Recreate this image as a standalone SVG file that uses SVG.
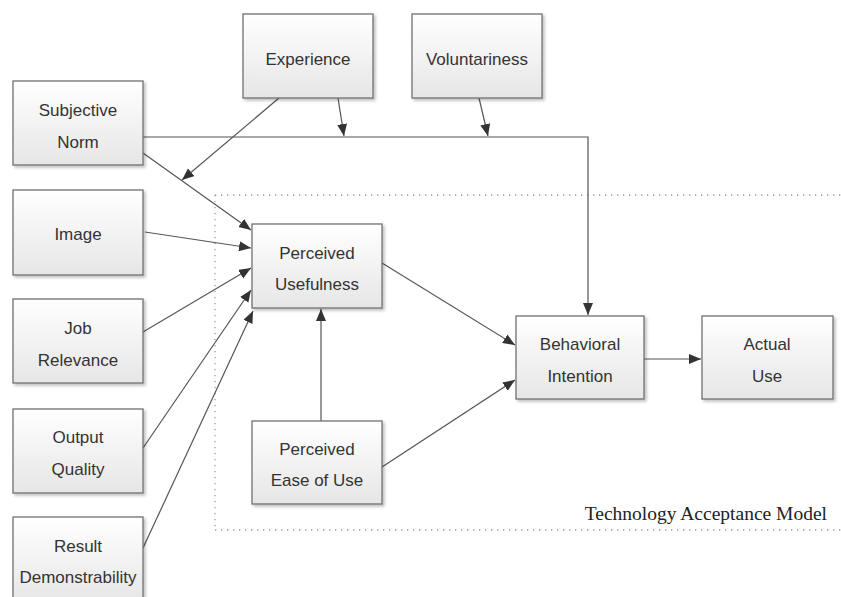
<svg xmlns="http://www.w3.org/2000/svg" width="841" height="597" viewBox="0 0 841 597">
<defs>
<linearGradient id="g" x1="0" y1="0" x2="0" y2="1">
<stop offset="0" stop-color="#ffffff"/>
<stop offset="1" stop-color="#e6e6e6"/>
</linearGradient>
<filter id="sh" x="-10%" y="-10%" width="130%" height="130%">
<feDropShadow dx="2" dy="2" stdDeviation="1.5" flood-color="#000" flood-opacity="0.25"/>
</filter>
<marker id="ah" markerUnits="userSpaceOnUse" markerWidth="14" markerHeight="12" refX="12" refY="5" orient="auto">
<path d="M0,0 L12,5 L0,10 Z" fill="#333"/>
</marker>
</defs>
<style>
.box{fill:url(#g);stroke:#707070;stroke-width:1.3;filter:url(#sh)}
.t{font-family:"Liberation Sans",Arial,sans-serif;font-size:17px;fill:#333;text-anchor:middle}
.c{fill:none;stroke:#555;stroke-width:1.2}
.a{marker-end:url(#ah)}
.dot{fill:none;stroke:#999;stroke-width:1.3;stroke-dasharray:1.3 4.7}
</style>
<rect width="841" height="597" fill="#fff"/>
<g id="tam-frame">
<line class="dot" x1="215" y1="195" x2="841" y2="195"/>
<line class="dot" x1="215" y1="195" x2="215" y2="530"/>
<line class="dot" x1="215" y1="530" x2="841" y2="530"/>
<text x="827" y="520" font-family="'Liberation Serif','Times New Roman',serif" font-size="19.5" fill="#222" text-anchor="end">Technology Acceptance Model</text>
</g>
<g id="connectors">
<polyline class="c a" points="143,137 588,137 588,315"/>
<line class="c a" x1="338" y1="98" x2="344" y2="136"/>
<line class="c a" x1="479" y1="98" x2="488" y2="136"/>
<line class="c a" x1="279" y1="98" x2="182" y2="180"/>
<line class="c a" x1="143" y1="153" x2="251" y2="230"/>
<line class="c a" x1="145" y1="232" x2="251" y2="248"/>
<line class="c a" x1="143" y1="332" x2="251" y2="268"/>
<line class="c a" x1="143" y1="448" x2="251" y2="290"/>
<line class="c a" x1="143" y1="548" x2="253" y2="311"/>
<line class="c a" x1="321" y1="421" x2="321" y2="309"/>
<line class="c a" x1="382" y1="263" x2="515" y2="345"/>
<line class="c a" x1="382" y1="467" x2="515" y2="380"/>
<line class="c a" x1="644" y1="359" x2="701" y2="359"/>
</g>
<g id="experience"><rect class="box" x="243" y="14" width="130" height="84"/><text class="t" x="308" y="65">Experience</text></g>
<g id="voluntariness"><rect class="box" x="412" y="14" width="130" height="84"/><text class="t" x="477" y="65">Voluntariness</text></g>
<g id="subjective-norm"><rect class="box" x="13" y="81" width="130" height="84"/><text class="t" x="78" y="116">Subjective</text><text class="t" x="78" y="148">Norm</text></g>
<g id="image"><rect class="box" x="13" y="190" width="130" height="85"/><text class="t" x="78" y="240">Image</text></g>
<g id="job-relevance"><rect class="box" x="13" y="299" width="130" height="84"/><text class="t" x="78" y="334">Job</text><text class="t" x="78" y="366">Relevance</text></g>
<g id="output-quality"><rect class="box" x="13" y="409" width="130" height="84"/><text class="t" x="78" y="443">Output</text><text class="t" x="78" y="475">Quality</text></g>
<g id="result-demonstrability"><rect class="box" x="13" y="517" width="130" height="86"/><text class="t" x="78" y="552">Result</text><text class="t" x="78" y="583">Demonstrability</text></g>
<g id="perceived-usefulness"><rect class="box" x="252" y="224" width="130" height="84"/><text class="t" x="317" y="259">Perceived</text><text class="t" x="317" y="290">Usefulness</text></g>
<g id="perceived-ease-of-use"><rect class="box" x="252" y="421" width="130" height="83"/><text class="t" x="317" y="455">Perceived</text><text class="t" x="317" y="486">Ease of Use</text></g>
<g id="behavioral-intention"><rect class="box" x="516" y="316" width="128" height="83"/><text class="t" x="580" y="350">Behavioral</text><text class="t" x="580" y="382">Intention</text></g>
<g id="actual-use"><rect class="box" x="702" y="316" width="131" height="83"/><text class="t" x="767" y="350">Actual</text><text class="t" x="767" y="382">Use</text></g>
</svg>
